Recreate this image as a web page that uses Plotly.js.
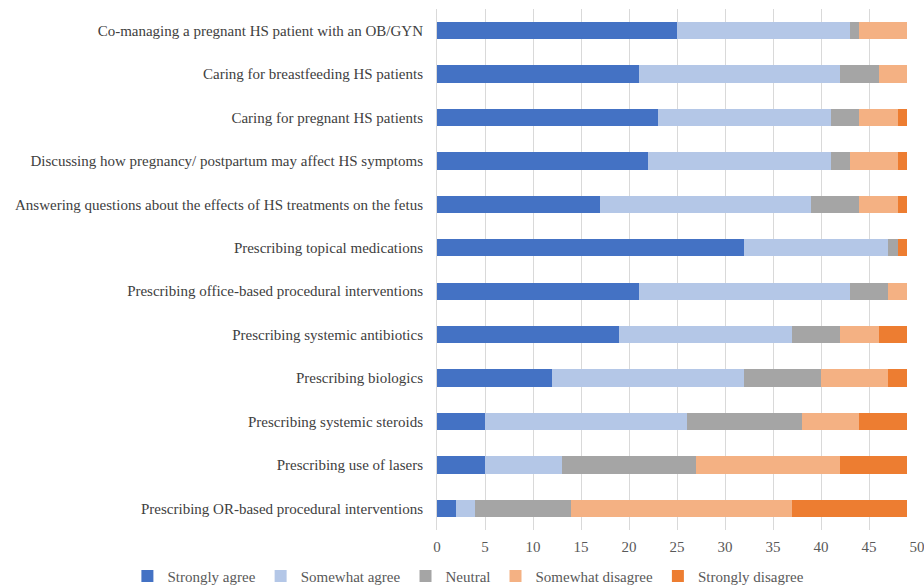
<!DOCTYPE html>
<html>
<head>
<meta charset="utf-8">
<script src="https://cdn.plot.ly/plotly-3.0.1.min.js"></script>
<style>html,body{margin:0;padding:0;background:#fff;}#chart{width:924px;height:587px;}</style>
</head>
<body>
<div id="chart"></div>
<script>
const categories = [
  "Co-managing a pregnant HS patient with an OB/GYN",
  "Caring for breastfeeding HS patients",
  "Caring for pregnant HS patients",
  "Discussing how pregnancy/ postpartum may affect HS symptoms",
  "Answering questions about the effects of HS treatments on the fetus",
  "Prescribing topical medications",
  "Prescribing office-based procedural interventions",
  "Prescribing systemic antibiotics",
  "Prescribing biologics",
  "Prescribing systemic steroids",
  "Prescribing use of lasers",
  "Prescribing OR-based procedural interventions"
];
const stronglyAgree    = [25, 21, 23, 22, 17, 32, 21, 19, 12, 5, 5, 2];
const somewhatAgree    = [18, 21, 18, 19, 22, 15, 22, 18, 20, 21, 8, 2];
const neutral          = [1, 4, 3, 2, 5, 1, 4, 5, 8, 12, 14, 10];
const somewhatDisagree = [5, 3, 4, 5, 4, 0, 2, 4, 7, 6, 15, 23];
const stronglyDisagree = [0, 0, 1, 1, 1, 1, 0, 3, 2, 5, 7, 12];
const seriesNames = ["Strongly agree", "Somewhat agree", "Neutral", "Somewhat disagree", "Strongly disagree"];
const xTicks = [0, 5, 10, 15, 20, 25, 30, 35, 40, 45, 50];

const colors = ["#4472C4", "#B4C7E7", "#A5A5A5", "#F4B183", "#ED7D31"];
const seriesData = [stronglyAgree, somewhatAgree, neutral, somewhatDisagree, stronglyDisagree];

const traces = seriesData.map((vals, i) => ({
  type: "bar",
  orientation: "h",
  name: seriesNames[i],
  x: vals,
  y: categories,
  marker: {color: colors[i], line: {width: 0}},
  hoverinfo: "x+y+name"
}));

const layout = {
  width: 924,
  height: 587,
  barmode: "stack",
  bargap: 0.6,
  margin: {l: 437, r: 7, t: 9, b: 57, autoexpand: false},
  paper_bgcolor: "#fff",
  plot_bgcolor: "#fff",
  font: {family: "Liberation Serif, Times New Roman, serif", size: 15, color: "#404040"},
  xaxis: {
    range: [0, 50],
    tickvals: xTicks,
    ticktext: xTicks.map(String),
    showgrid: true,
    gridcolor: "#d9d9d9",
    gridwidth: 1,
    zeroline: false,
    showline: false,
    ticks: "",
    ticklabelstandoff: 6,
    ticklabeloverflow: "allow",
    tickfont: {size: 15, color: "#595959"},
    fixedrange: true
  },
  yaxis: {
    autorange: "reversed",
    type: "category",
    showgrid: false,
    zeroline: false,
    showline: true,
    linecolor: "#d9d9d9",
    linewidth: 1,
    ticks: "",
    ticklabelstandoff: 10,
    tickfont: {size: 15, color: "#404040"},
    fixedrange: true
  },
  legend: {
    orientation: "h",
    x: -0.645,
    xanchor: "left",
    y: -0.057,
    yanchor: "top",
    font: {size: 15, color: "#595959"},
    traceorder: "normal",
    tracegroupgap: 0,
    bgcolor: "rgba(0,0,0,0)"
  },
  showlegend: true
};

Plotly.newPlot("chart", traces, layout, {displayModeBar: false, staticPlot: true});
</script>
</body>
</html>
